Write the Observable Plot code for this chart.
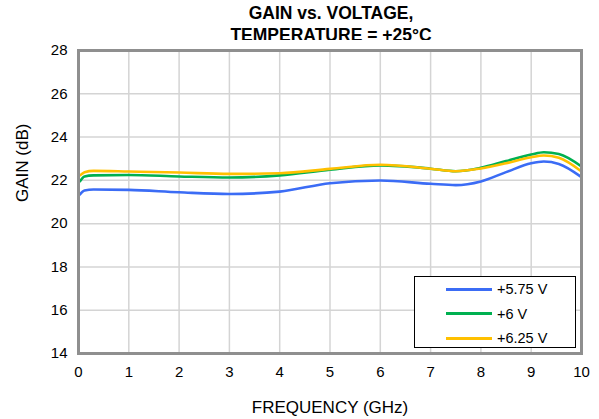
<!DOCTYPE html>
<html>
<head>
<meta charset="utf-8">
<script src="https://cdn.jsdelivr.net/npm/d3@7"></script>
<script src="https://cdn.jsdelivr.net/npm/@observablehq/plot@0.6"></script>
<style>
  html, body { margin: 0; padding: 0; background: #fff; overflow: hidden; }
  #wrap { position: relative; width: 599px; height: 419px; font-family: "Liberation Sans", Arial, sans-serif; }
  #title { position: absolute; left: 78px; width: 506px; top: 2px; text-align: center; font-weight: bold; font-size: 17.5px; line-height: 22px; color: #000; }
  #chart { position: absolute; left: 0; top: 40px; }
  #legend { position: absolute; left: 414px; top: 276px; width: 162px; height: 72px; border: 1px solid #000; background: #fff; box-sizing: border-box; font-size: 14.5px; }
  .row { position: absolute; left: 31px; height: 20px; display: flex; align-items: center; }
  .sw { width: 46px; height: 3px; margin-right: 5px; }
</style>
</head>
<body>
<div id="wrap">
  <div id="title">GAIN vs. VOLTAGE,<br>TEMPERATURE = +25°C</div>
  <div id="chart"></div>
  <div id="legend"></div>
</div>
<script>
const freq = [0.03, 0.12, 0.3, 1, 2, 3, 4, 5, 6, 7, 7.5, 8, 8.5, 9, 9.25, 9.55, 10];
const gain575 = [21.35, 21.53, 21.58, 21.56, 21.45, 21.37, 21.48, 21.87, 21.99, 21.84, 21.78, 21.95, 22.38, 22.79, 22.87, 22.76, 22.15];
const gain600 = [21.96, 22.18, 22.23, 22.25, 22.18, 22.13, 22.23, 22.49, 22.69, 22.54, 22.42, 22.58, 22.89, 23.19, 23.30, 23.22, 22.64];
const gain625 = [22.23, 22.38, 22.44, 22.41, 22.36, 22.30, 22.33, 22.53, 22.72, 22.54, 22.42, 22.55, 22.79, 23.07, 23.15, 23.04, 22.41];
const seriesNames = ["+5.75 V", "+6 V", "+6.25 V"];
const seriesColors = ["#3b6cf5", "#00b050", "#ffc000"];
const xTicks = [0, 1, 2, 3, 4, 5, 6, 7, 8, 9, 10];
const yTicks = [14, 16, 18, 20, 22, 24, 26, 28];

const allSeries = [gain575, gain600, gain625];
const data = [];
allSeries.forEach((vals, si) => {
  vals.forEach((g, i) => data.push({ f: freq[i], g, s: seriesNames[si] }));
});

const plot = Plot.plot({
  width: 599,
  height: 379,
  marginLeft: 78,
  marginRight: 18,
  marginTop: 10,
  marginBottom: 66,
  style: { fontFamily: "'Liberation Sans', Arial, sans-serif", fontSize: "15px", color: "#000", background: "#fff" },
  x: { domain: [0, 10] },
  y: { domain: [14, 28] },
  color: { domain: seriesNames, range: seriesColors },
  marks: [
    Plot.gridX(xTicks, { stroke: "#d4d4d4", strokeOpacity: 1, strokeWidth: 1.5 }),
    Plot.gridY(yTicks, { stroke: "#d4d4d4", strokeOpacity: 1, strokeWidth: 1.5 }),
    Plot.line(data, { x: "f", y: "g", z: "s", stroke: "s", strokeWidth: 2.6, curve: "monotone-x" }),
    Plot.frame({ stroke: "#8f8f8f", strokeWidth: 3 }),
    Plot.axisX(xTicks, { tickSize: 0, tickPadding: 13, fontSize: 15, label: null }),
    Plot.axisY(yTicks, { tickSize: 0, tickPadding: 11, fontSize: 15, label: null }),
    Plot.text(["FREQUENCY (GHz)"], { frameAnchor: "bottom", dy: 54, fontSize: 17, lineAnchor: "middle" }),
    Plot.text(["GAIN (dB)"], { frameAnchor: "left", dx: -56, rotate: -90, fontSize: 17, lineAnchor: "middle" })
  ]
});
document.getElementById("chart").appendChild(plot);

const legend = document.getElementById("legend");
seriesNames.forEach((name, i) => {
  const row = document.createElement("div");
  row.className = "row";
  row.style.top = (2 + i * 24.5) + "px";
  const sw = document.createElement("div");
  sw.className = "sw";
  sw.style.background = seriesColors[i];
  const t = document.createElement("span");
  t.textContent = name;
  row.appendChild(sw);
  row.appendChild(t);
  legend.appendChild(row);
});
</script>
</body>
</html>
